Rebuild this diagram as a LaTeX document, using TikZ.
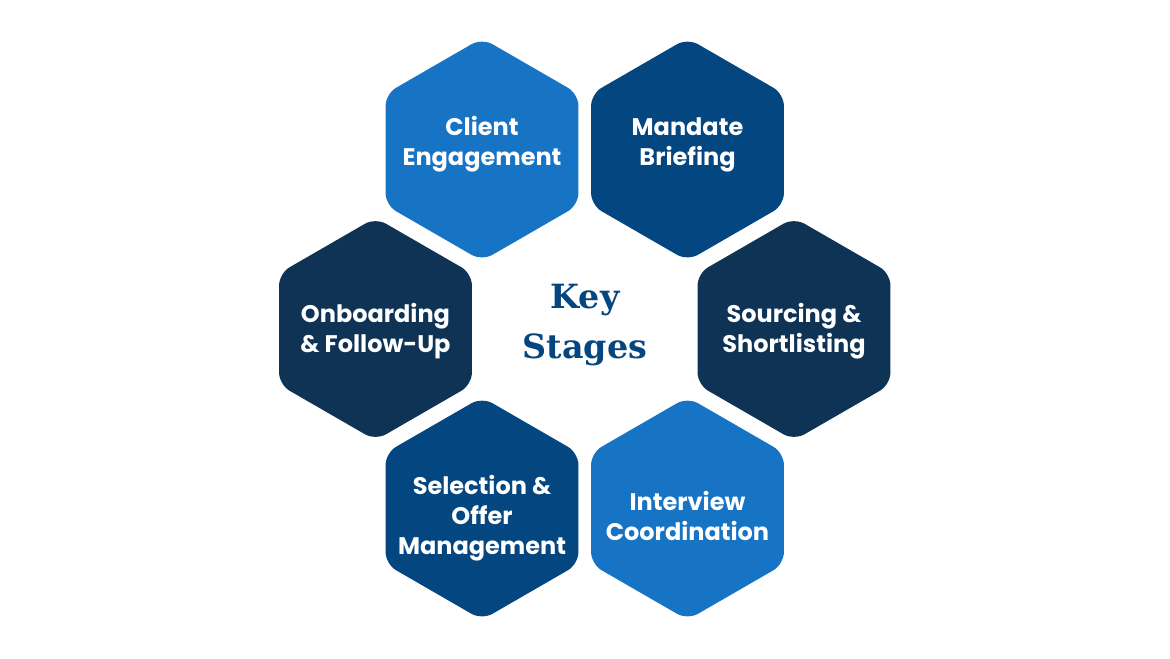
\documentclass[tikz,border=0pt]{standalone}
\usepackage{fontspec}
\setsansfont{Poppins}
\newfontfamily\keyfont{DejaVu Serif}
\usetikzlibrary{shapes.geometric}
\definecolor{lightblue}{HTML}{1774C5}
\definecolor{midblue}{HTML}{04467F}
\definecolor{darkblue}{HTML}{0F3355}
\tikzset{
  hexa/.style={regular polygon,regular polygon sides=6,shape border rotate=30,
    minimum size=167pt,inner sep=0pt,rounded corners=9pt,draw=none},
  stagetext/.style={text=white,align=center,
    font=\sffamily\bfseries\fontsize{18}{22.5}\selectfont}
}
\begin{document}
\begin{tikzpicture}[x=0.75pt,y=-0.75pt]
\useasboundingbox[fill=white] (0,0) rectangle (1170,658);
% hexagons
\node[hexa,fill=lightblue] (client) at (482,149.5) {};
\node[hexa,fill=midblue] (mandate) at (687.5,149.5) {};
\node[hexa,fill=darkblue] (sourcing) at (794,329) {};
\node[hexa,fill=lightblue] (interview) at (687.5,508.5) {};
\node[hexa,fill=midblue] (selection) at (482,508.5) {};
\node[hexa,fill=darkblue] (onboarding) at (375.5,329) {};
% labels
\node[stagetext] (clienttxt) at ([yshift=3.75pt]client) {Client\\Engagement};
\node[stagetext] (mandatetxt) at ([yshift=3.75pt]mandate) {Mandate\\Briefing};
\node[stagetext] (sourcingtxt) at ([yshift=-1.5pt]sourcing) {Sourcing \&\\Shortlisting};
\node[stagetext] (interviewtxt) at ([yshift=-5.25pt]interview) {Interview\\Coordination};
\node[stagetext] (selectiontxt) at ([yshift=-7.5pt]selection) {Selection \&\\Offer\\Management};
\node[stagetext] (onboardingtxt) at ([yshift=-1.5pt]onboarding) {Onboarding\\\& Follow-Up};
% centre
\node[text=midblue,align=center,font=\keyfont\bfseries\fontsize{25}{38}\selectfont] (key) at (585,325) {Key\\Stages};
\end{tikzpicture}
\end{document}
